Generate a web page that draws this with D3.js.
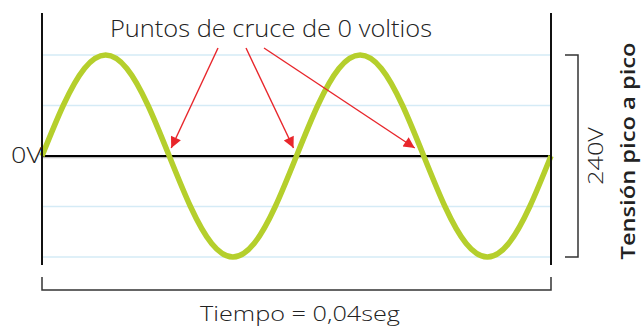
<!DOCTYPE html>
<html><head><meta charset="utf-8">
<script src="https://cdn.jsdelivr.net/npm/d3@7"></script>
<style>body{margin:0;background:#fff}svg{display:block}text{font-family:"Open Sans","Noto Sans",sans-serif;fill:#222}</style>
</head><body>
<script>
// time in ms (two cycles of 50 Hz = 0.04 s) and voltage
const timeMs = [0,1.667,3.333,5,6.667,8.333,10,11.667,13.333,15,16.667,18.333,20,21.667,23.333,25,26.667,28.333,30,31.667,33.333,35,36.667,38.333,40];
const voltage = [0,60,104,120,104,60,0,-60,-104,-120,-104,-60,0,60,104,120,104,60,0,-60,-104,-120,-104,-60,0];
const gridVolts = [-120,-60,60,120];
const zeroCrossMs = [10,20,30];
const title = "Puntos de cruce de 0 voltios";
const xLabel = "Tiempo = 0,04seg";
const zeroLabel = "0V";
const ppLabel = "240V";
const sideLabel = "Tensión pico a pico";

const W=641,H=326;
const svg=d3.select("body").append("svg").attr("width",W).attr("height",H);
const x=d3.scaleLinear().domain([0,40]).range([42,551]);
const y=d3.scaleLinear().domain([-120,120]).range([257,55]);

const defs=svg.append("defs");
defs.append("marker").attr("id","ah").attr("viewBox","0 0 10 10").attr("refX",10).attr("refY",5)
  .attr("markerUnits","userSpaceOnUse").attr("markerWidth",13).attr("markerHeight",11).attr("orient","auto")
  .append("path").attr("d","M0,0L10,5L0,10Z").attr("fill","#e8262b");

// gridlines
svg.selectAll("line.grid").data(gridVolts).join("line").attr("class","grid")
  .attr("x1",x(0)).attr("x2",x(40)).attr("y1",d=>y(d)).attr("y2",d=>y(d))
  .attr("stroke","#d5ebf6").attr("stroke-width",1.5);
// zero line
svg.append("line").attr("x1",x(0)).attr("x2",x(40)).attr("y1",y(0)+1.5).attr("y2",y(0)+1.5).attr("stroke","#bbb").attr("stroke-width",1.5);
svg.append("line").attr("x1",x(0)).attr("x2",x(40)).attr("y1",y(0)).attr("y2",y(0)).attr("stroke","#000").attr("stroke-width",2.2);

// sine
const pts=timeMs.map((t,i)=>[t,voltage[i]]);
svg.append("path").datum(pts).attr("fill","none").attr("stroke","#b5cf2c").attr("stroke-width",5.5)
  .attr("d",d3.line().x(d=>x(d[0])).y(d=>y(d[1])).curve(d3.curveNatural));

// frame verticals
[0,40].forEach(t=>svg.append("line").attr("x1",x(t)).attr("x2",x(t)).attr("y1",13).attr("y2",265).attr("stroke","#111").attr("stroke-width",2));

// arrows
const starts=[218,246,264];
zeroCrossMs.forEach((t,i)=>{
  const tipX=[x(t)+2,x(t)-3,x(t)-9][i];
  svg.append("line").attr("x1",starts[i]).attr("y1",48).attr("x2",tipX).attr("y2",y(0)-8)
    .attr("stroke","#e8262b").attr("stroke-width",1.4).attr("marker-end","url(#ah)");
});

// title
svg.append("text").attr("x",271).attr("y",37).attr("text-anchor","middle").attr("font-size",23).attr("font-weight",300)
  .attr("textLength",322).attr("lengthAdjust","spacingAndGlyphs").text(title);
// 0V
svg.append("text").attr("x",42).attr("y",163).attr("text-anchor","end").attr("font-size",22).attr("font-weight",300)
  .attr("textLength",31).attr("lengthAdjust","spacingAndGlyphs").text(zeroLabel);

// bottom bracket
svg.append("path").attr("d",`M${x(0)},277V290H${x(40)}V277`).attr("fill","none").attr("stroke","#333").attr("stroke-width",1.5);
svg.append("text").attr("x",300).attr("y",321).attr("text-anchor","middle").attr("font-size",21).attr("font-weight",300)
  .attr("textLength",200).attr("lengthAdjust","spacingAndGlyphs").text(xLabel);

// right bracket
svg.append("path").attr("d",`M565,${y(120)}H578V${y(-120)}H565`).attr("fill","none").attr("stroke","#333").attr("stroke-width",1.5);
svg.append("text").attr("transform",`translate(603,${y(0)}) rotate(-90)`).attr("text-anchor","middle").attr("font-size",21).attr("font-weight",300)
  .attr("textLength",58).attr("lengthAdjust","spacingAndGlyphs").text(ppLabel);
svg.append("text").attr("transform",`translate(635,151) rotate(-90)`).attr("text-anchor","middle").attr("font-size",19).attr("font-weight",600)
  .attr("textLength",217).attr("lengthAdjust","spacingAndGlyphs").text(sideLabel);
</script>
</body></html>
